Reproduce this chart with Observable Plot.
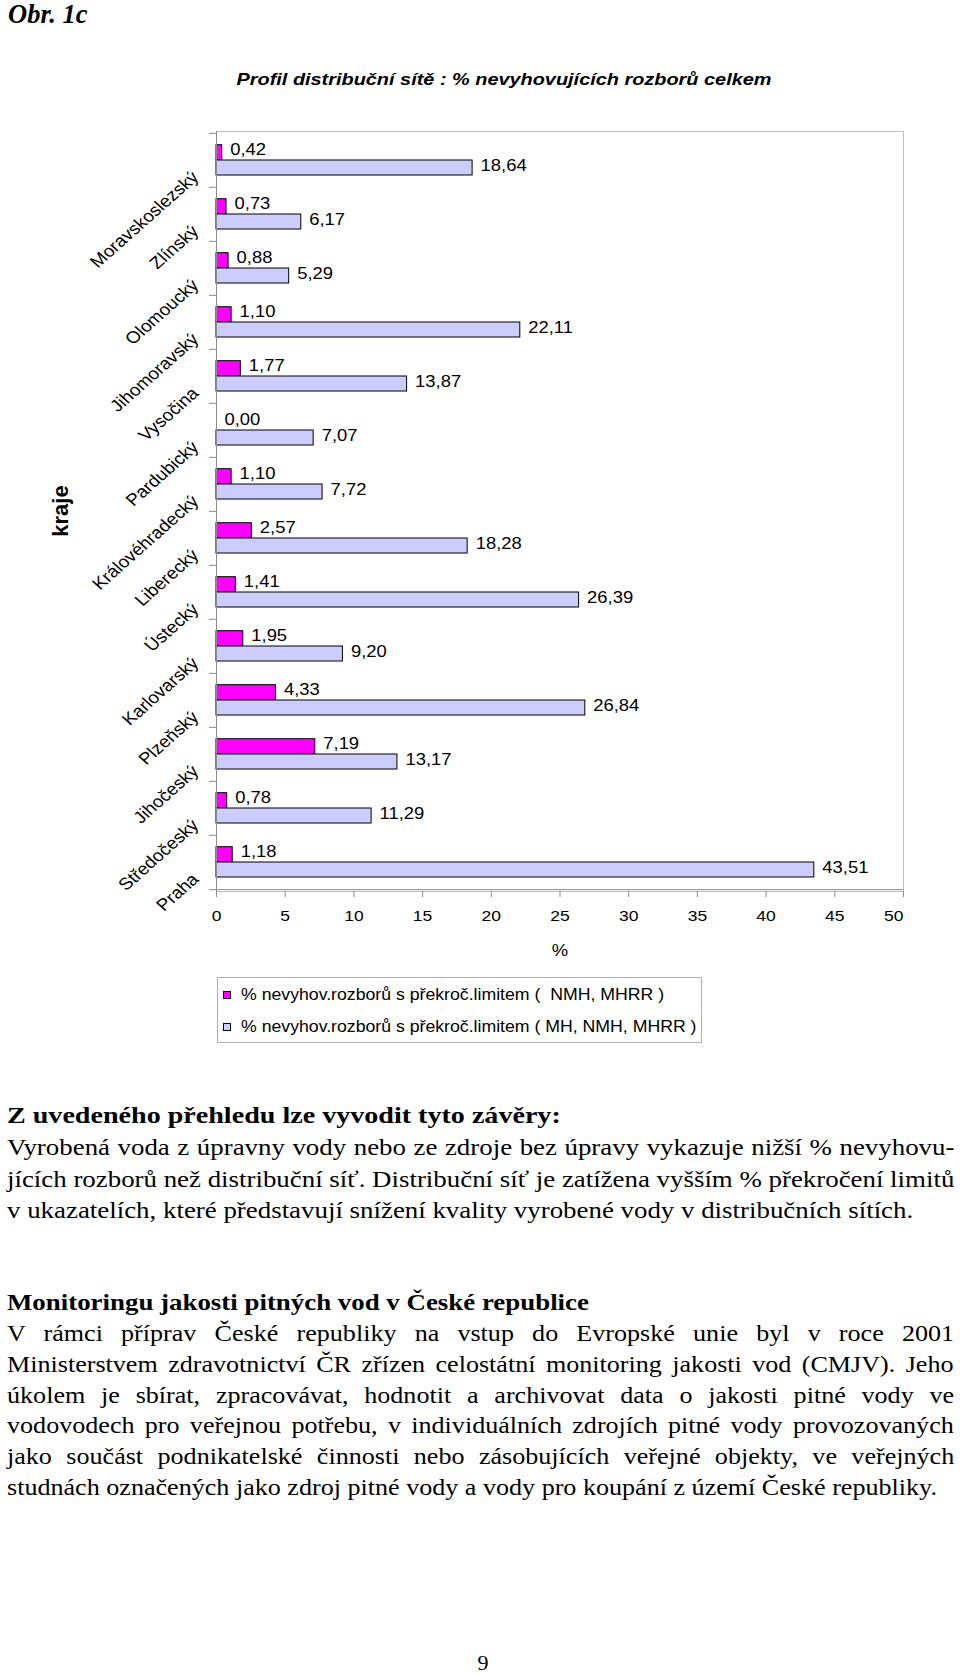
<!DOCTYPE html>
<html>
<head>
<meta charset="utf-8">
<script src="https://cdn.jsdelivr.net/npm/d3@7"></script>
<script src="https://cdn.jsdelivr.net/npm/@observablehq/plot@0.6"></script>
<style>
  html, body { margin: 0; padding: 0; background: #fff; }
  #page { position: relative; width: 960px; height: 1675px; overflow: hidden; background: #fff; color: #000; }
  .abs { position: absolute; white-space: nowrap; }
  .serif { font-family: "Liberation Serif", "Times New Roman", serif; }
  .sans { font-family: "Liberation Sans", Arial, sans-serif; }
  .line { position: absolute; left: 7px; font-family: "Liberation Serif", serif; font-size: 24px; line-height: 30px; height: 30px; white-space: nowrap; transform-origin: 0 0; }
  #chart { position: absolute; left: 0; top: 0; }
  .legend { position: absolute; left: 217px; top: 977px; width: 485px; height: 66px; border: 1px solid #b0b0b0; box-sizing: border-box; }
  .sw { position: absolute; width: 8px; height: 8px; border: 1px solid #000; box-sizing: border-box; }
  .lt { position: absolute; font-family: "Liberation Sans", Arial, sans-serif; font-size: 16px; line-height: 20px; white-space: pre; transform: scaleX(1.105); transform-origin: 0 50%; }
</style>
</head>
<body>
<div id="page">
  <div class="abs serif" id="fig" style="left:8px; top:1px; font-size:26.5px; font-weight:bold; font-style:italic; line-height:26px;"></div>
  <div class="abs sans" id="title" style="left:504px; top:69px; transform:translateX(-50%) scaleX(1.17); font-size:17px; font-weight:bold; font-style:italic; line-height:22px;"></div>
  <div id="chart"></div>
  <div class="abs sans" id="ylab" style="left:61px; top:511px; transform:translate(-50%,-50%) rotate(-90deg); font-size:22px; font-weight:bold; line-height:24px;"></div>
  <div class="abs sans" id="xlab" style="left:560px; top:951px; transform:translate(-50%,-50%) scaleX(1.15); font-size:16px; line-height:20px;"></div>
  <div class="legend" id="legend"></div>
  <div id="text"></div>
  <div class="abs serif" id="pagenum" style="left:483px; top:1650px; transform:translateX(-50%); font-size:22px; line-height:26px;"></div>
</div>
<script>
// ---- Data ----
const figLabel = "Obr. 1c";
const chartTitle = "Profil distribuční sítě : % nevyhovujících rozborů celkem";
const yTitle = "kraje";
const xTitle = "%";
const regions = ["Moravskoslezský", "Zlínský", "Olomoucký", "Jihomoravský", "Vysočina", "Pardubický",
  "Královéhradecký", "Liberecký", "Ústecký", "Karlovarský", "Plzeňský", "Jihočeský", "Středočeský", "Praha"];
const pctNmh = [0.42, 0.73, 0.88, 1.10, 1.77, 0.00, 1.10, 2.57, 1.41, 1.95, 4.33, 7.19, 0.78, 1.18];
const pctMh = [18.64, 6.17, 5.29, 22.11, 13.87, 7.07, 7.72, 18.28, 26.39, 9.20, 26.84, 13.17, 11.29, 43.51];
const xTicks = [0, 5, 10, 15, 20, 25, 30, 35, 40, 45, 50];
const seriesNames = ["% nevyhov.rozborů s překroč.limitem (  NMH, MHRR )", "% nevyhov.rozborů s překroč.limitem ( MH, NMH, MHRR )"];
const seriesColors = ["#ff00ff", "#ccccff"];
const pageNumber = "9";

const para1Head = "Z uvedeného přehledu lze vyvodit tyto závěry:";
const para1Lines = [
  "Vyrobená voda z úpravny vody nebo ze zdroje bez úpravy vykazuje nižší % nevyhovu-",
  "jících rozborů než distribuční síť. Distribuční síť je zatížena vyšším % překročení limitů",
  "v ukazatelích, které představují snížení kvality vyrobené vody v distribučních sítích."
];
const para2Head = "Monitoringu jakosti pitných vod v České republice";
const para2Lines = [
  "V rámci příprav České republiky na vstup do Evropské unie byl v roce 2001",
  "Ministerstvem zdravotnictví ČR zřízen celostátní monitoring jakosti vod (CMJV). Jeho",
  "úkolem je sbírat, zpracovávat, hodnotit a archivovat data o jakosti pitné vody ve",
  "vodovodech pro veřejnou potřebu, v individuálních zdrojích pitné vody provozovaných",
  "jako součást podnikatelské činnosti nebo zásobujících veřejné objekty, ve veřejných",
  "studnách označených jako zdroj pitné vody a vody pro koupání z území České republiky."
];

// ---- Chart ----
const rows = regions.map((r, i) => ({region: r, a: pctNmh[i], b: pctMh[i]}));
const H = 940, mTop = 131, mBottom = 49;
const bw = (H - mTop - mBottom) / regions.length;
const fmt = v => v.toFixed(2).replace(".", ",");
const lastTick = xTicks[xTicks.length - 1];

const chart = Plot.plot({
  width: 960,
  height: H,
  marginLeft: 216,
  marginRight: 57,
  marginTop: mTop,
  marginBottom: mBottom,
  style: {fontFamily: "Liberation Sans, Arial, sans-serif", fontSize: "16px", background: "transparent", color: "#000"},
  x: {domain: [0, 50], axis: null, label: null},
  y: {domain: regions, padding: 0, axis: null, label: null},
  marks: [
    Plot.frame({stroke: "#bdbdbd"}),
    Plot.barX(rows, {x: "a", y: "region", fill: seriesColors[0], stroke: "#000", strokeWidth: 1, insetTop: 11.7, insetBottom: bw - 27}),
    Plot.barX(rows, {x: "b", y: "region", fill: seriesColors[1], stroke: "#000", strokeWidth: 1, insetTop: 27, insetBottom: 12}),
    Plot.ruleX([0], {stroke: "#8c8c8c"}),
    Plot.ruleY([regions[regions.length - 1]], {dy: bw / 2, stroke: "#8c8c8c"}),
    Plot.axisY(regions, {tickSize: 7, tickFormat: () => "", stroke: "#8c8c8c", dy: -bw / 2, label: null}),
    Plot.axisY([regions[regions.length - 1]], {tickSize: 7, tickFormat: () => "", stroke: "#8c8c8c", dy: bw / 2, label: null}),
    Plot.axisX(xTicks, {tickSize: 6, tickFormat: () => "", stroke: "#8c8c8c", label: null}),
    Plot.text(xTicks.filter(t => t !== lastTick), {x: d => d, text: d => String(d), frameAnchor: "bottom", lineAnchor: "top", textAnchor: "middle", dy: 18.5, fontSize: 15.5, fill: "#000"}),
    Plot.text([lastTick], {x: d => d, text: d => String(d), frameAnchor: "bottom", lineAnchor: "top", textAnchor: "end", dy: 18.5, fontSize: 15.5, fill: "#000"}),
    Plot.text(rows, {x: "a", y: "region", text: d => fmt(d.a), textAnchor: "start", dx: 8, dy: -10.5, fontSize: 16.3, fill: "#000"}),
    Plot.text(rows, {x: "b", y: "region", text: d => fmt(d.b), textAnchor: "start", dx: 8, dy: 5.5, fontSize: 16.3, fill: "#000"}),
    Plot.text(regions, {y: d => d, text: d => d, frameAnchor: "left", textAnchor: "end", rotate: -45, dx: -21, dy: 14, fontSize: 16.8, fill: "#000"})
  ]
});
// Horizontal stretch of all chart labels, as in the (horizontally stretched) reference scan
const S = 1.13;
chart.querySelectorAll("text").forEach(t => {
  const tr = t.getAttribute("transform");
  if (!tr || !tr.startsWith("translate")) return;
  if (tr.includes("rotate(")) t.setAttribute("transform", tr.replace("rotate(", `scale(${S},1) rotate(`));
  else t.setAttribute("transform", tr + ` scale(${S},1)`);
});
document.getElementById("chart").appendChild(chart);

// ---- Surrounding text ----
document.getElementById("fig").textContent = figLabel;
document.getElementById("title").textContent = chartTitle;
document.getElementById("ylab").textContent = yTitle;
document.getElementById("xlab").textContent = xTitle;
document.getElementById("pagenum").textContent = pageNumber;

const legend = document.getElementById("legend");
seriesNames.forEach((name, i) => {
  const sw = document.createElement("div");
  sw.className = "sw";
  sw.style.left = "5px";
  sw.style.top = (13 + i * 32) + "px";
  sw.style.background = seriesColors[i];
  legend.appendChild(sw);
  const t = document.createElement("div");
  t.className = "lt";
  t.style.left = "23px";
  t.style.top = (7 + i * 32) + "px";
  t.textContent = name;
  legend.appendChild(t);
});

// Justified lines: word spacing computed so each line spans the text column
const textDiv = document.getElementById("text");
const colWidth = 947;
function addLine(str, baseline, opts) {
  const d = document.createElement("div");
  d.className = "line";
  d.style.top = (baseline - 23) + "px";
  d.style.transform = `scaleX(${opts.scale})`;
  if (opts.bold) d.style.fontWeight = "bold";
  d.textContent = str;
  textDiv.appendChild(d);
  if (opts.just) {
    const natural = d.offsetWidth;
    const spaces = (str.match(/ /g) || []).length;
    const target = colWidth / opts.scale;
    if (spaces > 0) d.style.wordSpacing = ((target - natural) / spaces) + "px";
  }
}
addLine(para1Head, 1123, {bold: true, scale: 1.17});
para1Lines.forEach((s, i) => addLine(s, 1155 + i * 31.5, {just: i < para1Lines.length - 1, scale: 1.12}));
addLine(para2Head, 1310, {bold: true, scale: 1.12});
para2Lines.forEach((s, i) => addLine(s, 1341 + i * 30.8, {just: i < para2Lines.length - 1, scale: 1.087}));
</script>
</body>
</html>
